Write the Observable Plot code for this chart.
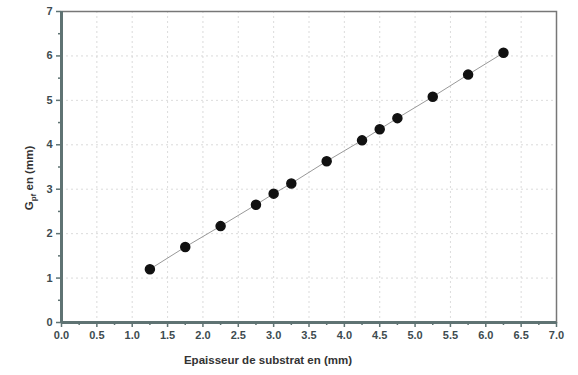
<!DOCTYPE html>
<html><head><meta charset="utf-8">
<script src="https://cdn.jsdelivr.net/npm/d3@7"></script>
<script src="https://cdn.jsdelivr.net/npm/@observablehq/plot@0.6"></script>
<style>
body{margin:0;background:#fff;}
#chart svg{display:block;}
</style></head>
<body><div id="chart"></div>
<script>
const thickness = [1.25, 1.75, 2.25, 2.75, 3.0, 3.25, 3.75, 4.25, 4.5, 4.75, 5.25, 5.75, 6.25];
const gpf = [1.2, 1.7, 2.17, 2.65, 2.9, 3.13, 3.63, 4.1, 4.35, 4.6, 5.08, 5.58, 6.07];
const xTicks = [0,0.5,1,1.5,2,2.5,3,3.5,4,4.5,5,5.5,6,6.5,7];
const xMinor = [0.25,0.75,1.25,1.75,2.25,2.75,3.25,3.75,4.25,4.75,5.25,5.75,6.25,6.75];
const yTicks = [0,1,2,3,4,5,6,7];
const yMinor = [0.5,1.5,2.5,3.5,4.5,5.5,6.5];
const xLabel = "Epaisseur de substrat en (mm)";
const yLabelMain = "G";
const yLabelSub = "pf";
const yLabelRest = " en (mm)";

const data = thickness.map((t,i)=>({x:t, y:gpf[i]}));
const axisColor = "#5f7373";
const textColor = "#3d4b4f";

const plot = Plot.plot({
  width: 578, height: 375,
  marginLeft: 61, marginRight: 22, marginTop: 11, marginBottom: 53,
  style: {fontFamily: "'Liberation Sans', Arial, sans-serif", fontWeight: "bold", fontSize: "11px", color: textColor, background: "#fff"},
  x: {domain: [0,7]},
  y: {domain: [0,7]},
  marks: [
    Plot.gridX(xTicks, {stroke: "#ccc", strokeOpacity: 0.7, strokeDasharray: "2,3"}),
    Plot.gridY(yTicks, {stroke: "#ccc", strokeOpacity: 0.7, strokeDasharray: "2,3"}),
    Plot.frame({stroke: "#777", strokeWidth: 1.5}),
    Plot.ruleX([0], {stroke: axisColor, strokeWidth: 3}),
    Plot.ruleY([0], {stroke: axisColor, strokeWidth: 3}),
    Plot.axisX(xTicks, {tickFormat: d => d.toFixed(1), tickSize: 5, tickPadding: 4, stroke: axisColor, strokeWidth: 1.5, label: null, fill: textColor}),
    Plot.axisX(xMinor, {tickFormat: null, tickSize: 3, text: null, stroke: axisColor, strokeWidth: 1.5, label: null}),
    Plot.axisY(yTicks, {tickFormat: d => String(d), tickSize: 5, tickPadding: 4, stroke: axisColor, strokeWidth: 1.5, label: null, fill: textColor}),
    Plot.axisY(yMinor, {tickFormat: null, tickSize: 3, text: null, stroke: axisColor, strokeWidth: 1.5, label: null}),
    Plot.line(data, {x: "x", y: "y", stroke: "#999", strokeWidth: 1}),
    Plot.dot(data, {x: "x", y: "y", r: 4.5, fill: "#111", stroke: "#111"})
  ]
});

const svg = d3.select(plot);
svg.append("text")
  .attr("x", 268).attr("y", 364)
  .attr("text-anchor", "middle")
  .attr("font-family", "'Liberation Sans', Arial, sans-serif")
  .attr("font-weight", "bold").attr("font-size", 11.5)
  .attr("fill", "#333")
  .text(xLabel);
const yl = svg.append("text")
  .attr("transform", "translate(33,178) rotate(-90)")
  .attr("text-anchor", "middle")
  .attr("font-family", "'Liberation Sans', Arial, sans-serif")
  .attr("font-weight", "bold").attr("font-size", 11.5)
  .attr("fill", "#333");
yl.append("tspan").text(yLabelMain);
yl.append("tspan").attr("font-size", 8).attr("dy", 3).text(yLabelSub);
yl.append("tspan").attr("dy", -3).text(yLabelRest);

document.getElementById("chart").appendChild(plot);
</script>
</body></html>
